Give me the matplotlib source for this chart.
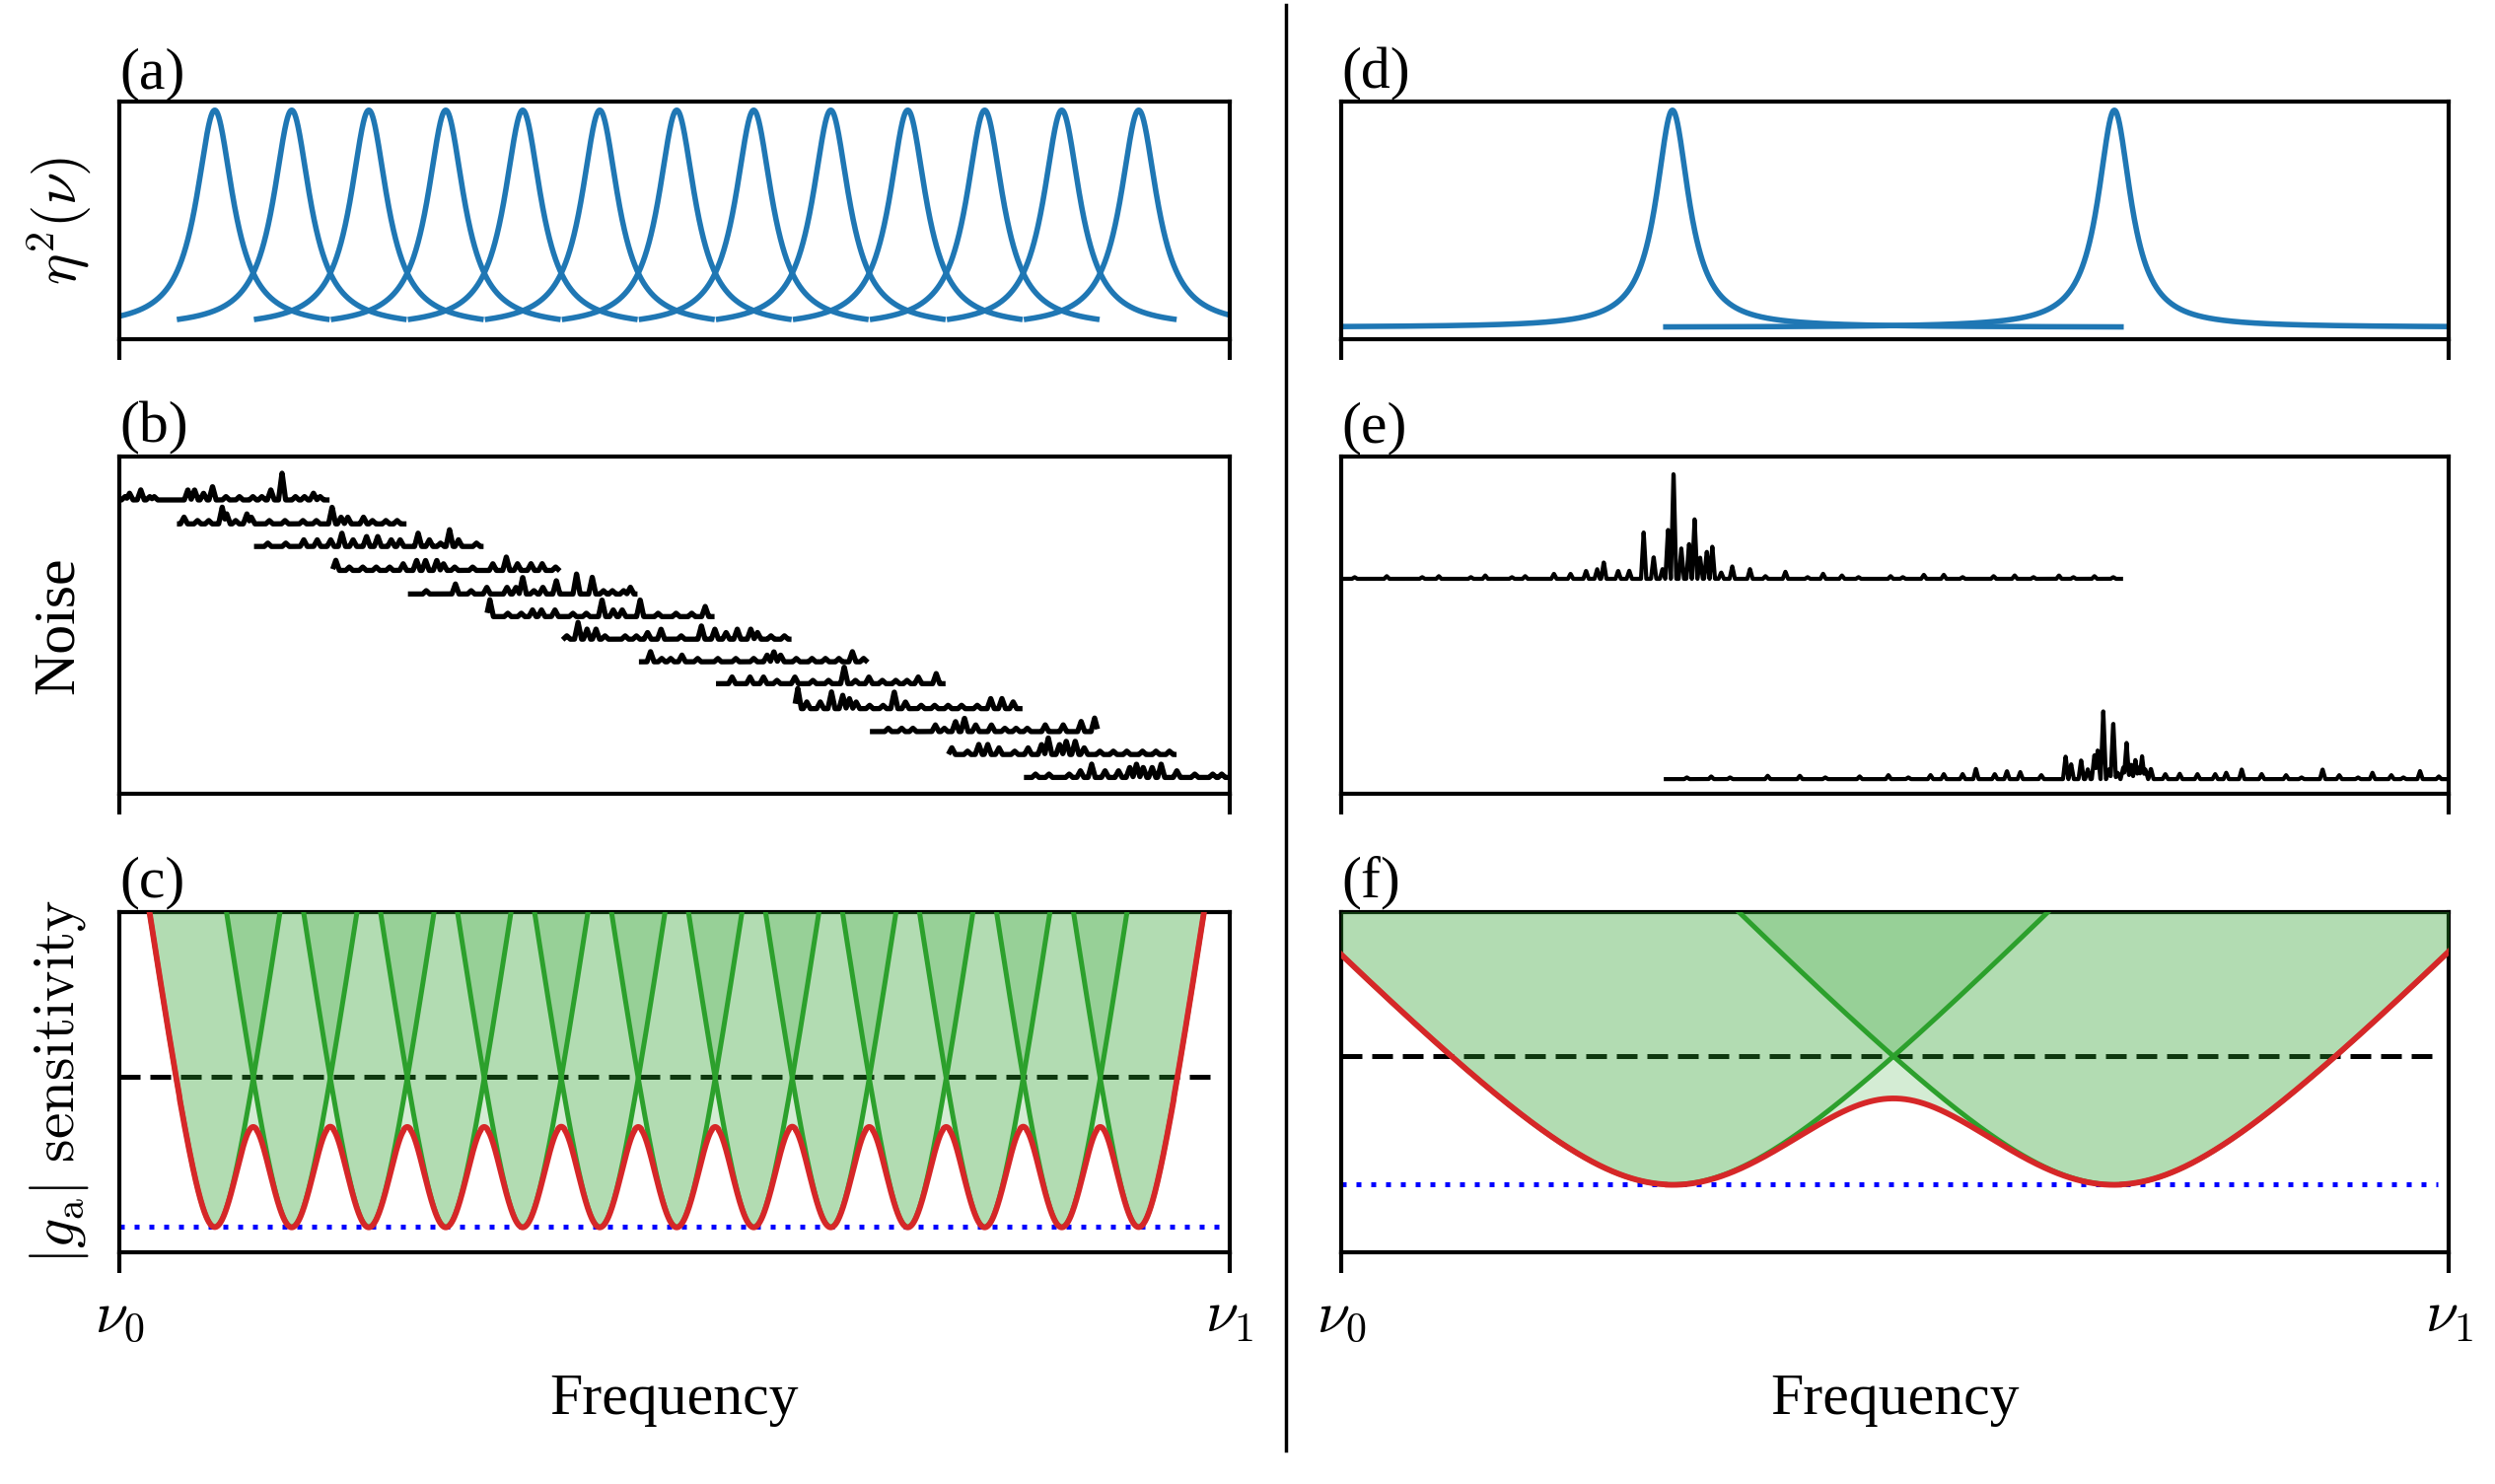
import numpy as np
import matplotlib.pyplot as plt
from matplotlib.lines import Line2D

plt.rcParams['font.family'] = ['Liberation Serif', 'DejaVu Serif']
plt.rcParams['mathtext.fontset'] = 'cm'
plt.rcParams['font.size'] = 43

# --- (frequency axis runs 0 = nu0 .. 1 = nu1) ---
centres_many = [0.0860, 0.1553, 0.2247, 0.2940, 0.3633, 0.4327, 0.5020,
                0.5713, 0.6407, 0.7100, 0.7793, 0.8487, 0.9180]
centres_two = [0.299, 0.698]
half_window_many = 0.101
half_window_two = 0.405
lorentz_width_many = 0.020
lorentz_width_two = 0.018
sens_width_many = 0.0208
sens_width_two = 0.12
dashed_level_many = 1.95
dashed_level_two = 1.944
dotted_level = 1.0

# noise traces in (b): baseline heights (axes fraction) and spikes
# spikes = (position inside the scan window 0..1, height in 0.01 units)
baselines_b = [0.872, 0.801, 0.734, 0.663, 0.593, 0.526, 0.459,
               0.392, 0.327, 0.253, 0.185, 0.117, 0.049]
spikes_b = [
    [(0.10, 1), (0.12, 2), (0.17, 3), (0.21, 1), (0.23, 1), (0.38, 3), (0.41, 3), (0.45, 2), (0.49, 4), (0.55, 1),
     (0.61, 1), (0.67, 1), (0.71, 1), (0.75, 3), (0.80, 8), (0.86, 1), (0.90, 1), (0.94, 2), (0.97, 1)],
    [(0.02, 2), (0.08, 1), (0.13, 1), (0.19, 5), (0.21, 3), (0.25, 1), (0.30, 3), (0.32, 2), (0.40, 1), (0.47, 1),
     (0.55, 1), (0.61, 1), (0.68, 5), (0.72, 2), (0.75, 2), (0.82, 2), (0.86, 1), (0.92, 1), (0.97, 1)],
    [(0.05, 1), (0.13, 1), (0.21, 2), (0.27, 2), (0.33, 2), (0.38, 4), (0.43, 2), (0.49, 3), (0.54, 3), (0.60, 2),
     (0.64, 2), (0.72, 4), (0.77, 2), (0.82, 1), (0.86, 5), (0.90, 2), (0.98, 1)],
    [(0.01, 3), (0.07, 1), (0.13, 1), (0.19, 1), (0.25, 1), (0.31, 2), (0.37, 3), (0.41, 3), (0.46, 3), (0.49, 2),
     (0.54, 1), (0.62, 1), (0.71, 2), (0.77, 4), (0.82, 2), (0.88, 2), (0.93, 2), (0.99, 1)],
    [(0.07, 1), (0.20, 3), (0.27, 1), (0.34, 2), (0.43, 2), (0.47, 2), (0.50, 5), (0.55, 1), (0.59, 2), (0.65, 4),
     (0.74, 6), (0.81, 5), (0.86, 1), (0.90, 1), (0.95, 1), (0.98, 2)],
    [(0.01, 5), (0.09, 1), (0.15, 1), (0.20, 2), (0.24, 2), (0.30, 2), (0.38, 1), (0.44, 1), (0.51, 5), (0.56, 2),
     (0.60, 2), (0.68, 5), (0.76, 1), (0.84, 1), (0.91, 1), (0.97, 3)],
    [(0.01, 1), (0.06, 5), (0.10, 3), (0.14, 3), (0.18, 1), (0.27, 1), (0.32, 1), (0.37, 2), (0.43, 3), (0.52, 1),
     (0.61, 4), (0.67, 3), (0.72, 2), (0.77, 3), (0.83, 3), (0.86, 2), (0.92, 1), (0.98, 1)],
    [(0.04, 3), (0.09, 1), (0.13, 1), (0.18, 2), (0.25, 1), (0.34, 1), (0.42, 1), (0.50, 1), (0.56, 2), (0.59, 3),
     (0.62, 2), (0.69, 1), (0.76, 1), (0.82, 1), (0.88, 1), (0.94, 3), (0.99, 1)],
    [(0.06, 2), (0.14, 2), (0.20, 2), (0.26, 1), (0.34, 2), (0.42, 1), (0.49, 1), (0.56, 5), (0.61, 1), (0.67, 2),
     (0.73, 1), (0.79, 1), (0.84, 1), (0.89, 2), (0.97, 3)],
    [(0.01, 6), (0.05, 2), (0.11, 2), (0.16, 5), (0.21, 4), (0.24, 3), (0.27, 2), (0.33, 1), (0.39, 1), (0.44, 5),
     (0.49, 2), (0.56, 1), (0.62, 1), (0.68, 1), (0.74, 1), (0.81, 1), (0.87, 3), (0.92, 3), (0.97, 2)],
    [(0.07, 1), (0.13, 1), (0.18, 1), (0.28, 2), (0.32, 1), (0.37, 3), (0.41, 4), (0.46, 2), (0.53, 2), (0.59, 1),
     (0.64, 1), (0.69, 1), (0.77, 2), (0.85, 2), (0.93, 3), (0.99, 4)],
    [(0.01, 2), (0.08, 1), (0.13, 3), (0.17, 3), (0.22, 2), (0.29, 1), (0.35, 2), (0.41, 3), (0.44, 5), (0.49, 3),
     (0.52, 4), (0.56, 4), (0.60, 2), (0.67, 1), (0.73, 1), (0.79, 1), (0.86, 1), (0.92, 1), (0.98, 1)],
    [(0.04, 1), (0.10, 1), (0.19, 1), (0.24, 2), (0.29, 4), (0.35, 2), (0.41, 2), (0.46, 3), (0.49, 4), (0.52, 3),
     (0.56, 3), (0.60, 4), (0.67, 2), (0.75, 1), (0.83, 1), (0.87, 1)],
]

# noise traces in (e): baseline (axes fraction), spike position (frequency) and height (axes fraction)
baselines_e = [0.638, 0.044]
spike_pos_e1 = [0.012, 0.041, 0.073, 0.088, 0.117, 0.130, 0.154, 0.166, 0.192, 0.207, 0.221, 0.231, 0.237, 0.250,
                0.260, 0.273, 0.282, 0.290, 0.295, 0.300, 0.307, 0.314, 0.319, 0.324, 0.330, 0.335, 0.343, 0.353,
                0.369, 0.383, 0.401, 0.421, 0.435, 0.452, 0.467, 0.496, 0.507, 0.526, 0.544, 0.561, 0.589, 0.608,
                0.625, 0.648, 0.661, 0.680, 0.697]
spike_h_e1 = [0.005, 0.008, 0.005, 0.008, 0.005, 0.010, 0.005, 0.008, 0.015, 0.015, 0.024, 0.029, 0.050, 0.024,
              0.024, 0.139, 0.066, 0.029, 0.148, 0.322, 0.090, 0.107, 0.180, 0.063, 0.083, 0.097, 0.019, 0.037,
              0.029, 0.008, 0.021, 0.005, 0.015, 0.010, 0.005, 0.008, 0.005, 0.012, 0.012, 0.005, 0.008, 0.010,
              0.005, 0.010, 0.005, 0.008, 0.005]
spike_pos_e2 = [0.312, 0.334, 0.351, 0.385, 0.414, 0.437, 0.468, 0.494, 0.512, 0.532, 0.544, 0.561, 0.573, 0.590,
                0.601, 0.613, 0.632, 0.654, 0.659, 0.668, 0.674, 0.680, 0.683, 0.688, 0.693, 0.697, 0.701, 0.706,
                0.709, 0.713, 0.717, 0.720, 0.723, 0.726, 0.731, 0.744, 0.757, 0.773, 0.789, 0.799, 0.813, 0.831,
                0.853, 0.867, 0.886, 0.901, 0.918, 0.931, 0.948, 0.959, 0.974, 0.991]
spike_h_e2 = [0.005, 0.008, 0.005, 0.010, 0.010, 0.005, 0.008, 0.012, 0.005, 0.012, 0.015, 0.015, 0.031, 0.015,
              0.024, 0.021, 0.012, 0.068, 0.044, 0.057, 0.029, 0.073, 0.088, 0.203, 0.029, 0.170, 0.019, 0.034,
              0.109, 0.044, 0.058, 0.034, 0.068, 0.029, 0.031, 0.015, 0.016, 0.015, 0.015, 0.019, 0.029, 0.015,
              0.012, 0.005, 0.029, 0.012, 0.005, 0.019, 0.012, 0.005, 0.024, 0.008]

COL_BLUE = '#1f77b4'
COL_GREEN = '#2ca02c'
COL_RED = '#d62728'


def spiky(x, pos, hts, hw):
    y = np.zeros_like(x)
    for p, h in zip(pos, hts):
        y = np.maximum(y, h * np.clip(1 - np.abs(x - p) / hw, 0, None))
    return y


def lorentz(x, c, g):
    return 1.0 / (1.0 + ((x - c) / g) ** 2)


def sens(x, c, w):
    return np.sqrt(1.0 + ((x - c) / w) ** 2)


W, H = 2530, 1505
fig = plt.figure(figsize=(W / 100, H / 100), dpi=100)

rows = [(0.7716, 0.1597), (0.4650, 0.2272), (0.1563, 0.2294)]
cols = [(0.0478, 0.4451), (0.5376, 0.4439)]
axes = [[fig.add_axes([c[0], r[0], c[1], r[1]]) for r in rows] for c in cols]

for col in axes:
    for i, ax in enumerate(col):
        ax.set_xlim(0, 1)
        ax.set_yticks([])
        ax.set_xticks([0, 1])
        for sp in ax.spines.values():
            sp.set_linewidth(3)
        ax.tick_params(axis='x', direction='out', length=15, width=3, pad=14)
        if i < 2:
            ax.set_xticklabels(['', ''])
        else:
            ax.set_xticklabels([r'$\nu_0$', r'$\nu_1$'])
            ax.set_xlabel('Frequency', labelpad=21)

for ax, lab in zip([axes[0][0], axes[0][1], axes[0][2], axes[1][0], axes[1][1], axes[1][2]],
                   ['(a)', '(b)', '(c)', '(d)', '(e)', '(f)']):
    ax.text(0.0, 1.005, lab, transform=ax.transAxes, ha='left', va='bottom')

ylabels = [r'$\eta^2(\nu)$', 'Noise', r'$|g_{\rm a}|\ {\rm sensitivity}$']
for ax, lab in zip(axes[0], ylabels):
    ax.text(-0.054, 0.5, lab, transform=ax.transAxes, rotation=90, ha='center', va='center')


def draw_column(col, centres, half_win, g, w, dashed_level, ylo_c):
    ax_a, ax_b, ax_c = col
    # (a)/(d) cavity responses
    for c in centres:
        x = np.linspace(c - half_win, c + half_win, 1500)
        ax_a.plot(x, lorentz(x, c, g), color=COL_BLUE, lw=4)
    ax_a.set_ylim(-0.0535, 1.038)

    # (c)/(f) sensitivity
    xx = np.linspace(0, 1, 4000)
    inv4 = np.zeros_like(xx)
    top = 3.0
    for c in centres:
        x = np.linspace(c - half_win, c + half_win, 3000)
        s = sens(x, c, w)
        ax_c.fill_between(x, np.minimum(s, top), top, color=COL_GREEN, alpha=0.2, lw=0, zorder=3)
        ax_c.plot(x, s, color=COL_GREEN, lw=3.6, zorder=4)
        inside = np.abs(xx - c) <= half_win
        inv4[inside] += sens(xx[inside], c, w) ** -4
    s_tot = inv4 ** -0.25
    ax_c.fill_between(xx, np.minimum(s_tot, top), top, color=COL_GREEN, alpha=0.2, lw=0, zorder=3)
    ax_c.plot(xx, s_tot, color=COL_RED, lw=4.2, zorder=5)
    ax_c.plot([0, 0.99], [dashed_level] * 2, color='k', lw=3.6, dashes=(4.2, 2.0), zorder=2)
    ax_c.plot([0, 0.99], [dotted_level] * 2, color='blue', lw=3.6, dashes=(1, 2), zorder=2)
    ax_c.set_ylim(ylo_c, top)


draw_column(axes[0], centres_many, half_window_many, lorentz_width_many, sens_width_many,
            dashed_level_many, 0.84)
draw_column(axes[1], centres_two, half_window_two, lorentz_width_two, sens_width_two,
            dashed_level_two, 0.506)

# (b) noise staircase
ax_b = axes[0][1]
for c, base, spk in zip(centres_many, baselines_b, spikes_b):
    lo, hi = c - half_window_many, c + half_window_many
    x = np.linspace(lo, hi, 1200)
    pos = [lo + p * (hi - lo) for p, h in spk]
    hts = [h * 0.01 for p, h in spk]
    ax_b.plot(x, base + spiky(x, pos, hts, 0.0032), color='k', lw=3.8)
ax_b.set_ylim(0, 1)

# (e) noise around two resonances
ax_e = axes[1][1]
for c, base, pos, hts in zip(centres_two, baselines_e, [spike_pos_e1, spike_pos_e2], [spike_h_e1, spike_h_e2]):
    x = np.linspace(c - half_window_two, c + half_window_two, 4000)
    ax_e.plot(x, base + spiky(x, pos, hts, 0.0024), color='k', lw=3.0)
ax_e.set_ylim(0, 1)

# divider between the two columns
fig.add_artist(Line2D([1304 / W] * 2, [1 - 1471 / H, 1 - 5 / H], color='k', lw=2.5))

fig.savefig('out.png', dpi=100)
